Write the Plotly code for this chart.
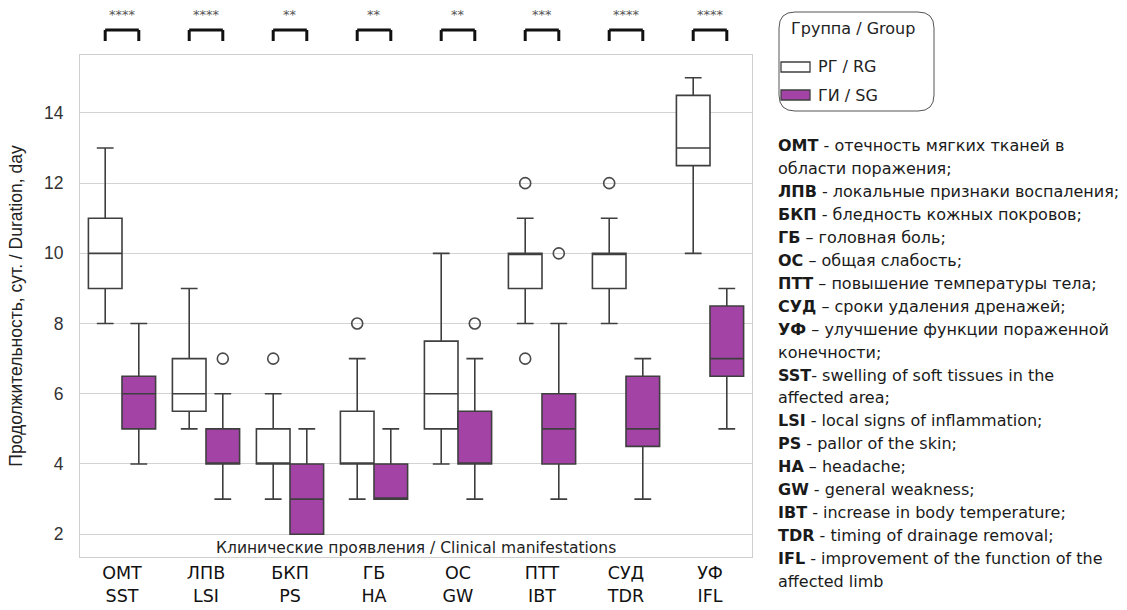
import plotly.graph_objects as go

# ---------------- data ----------------
categories = ["ОМТ<br>SST", "ЛПВ<br>LSI", "БКП<br>PS", "ГБ<br>HA",
              "ОС<br>GW", "ПТТ<br>IBT", "СУД<br>TDR", "УФ<br>IFL"]

rg_low = [8, 5, 3, 3, 4, 8, 8, 10]
rg_q1 = [9, 5.5, 4, 4, 5, 9, 9, 12.5]
rg_med = [10, 6, 4, 4, 6, 10, 10, 13]
rg_q3 = [11, 7, 5, 5.5, 7.5, 10, 10, 14.5]
rg_high = [13, 9, 6, 7, 10, 11, 11, 15]

sg_low = [4, 3, 2, 3, 3, 3, 3, 5]
sg_q1 = [5, 4, 2, 3, 4, 4, 4.5, 6.5]
sg_med = [6, 4, 3, 3, 4, 5, 5, 7]
sg_q3 = [6.5, 5, 4, 4, 5.5, 6, 6.5, 8.5]
sg_high = [8, 6, 5, 5, 7, 8, 7, 9]

rg_out_x = ["БКП<br>PS", "ГБ<br>HA", "ПТТ<br>IBT", "ПТТ<br>IBT", "СУД<br>TDR"]
rg_out_y = [7, 8, 12, 7, 12]
sg_out_x = ["ЛПВ<br>LSI", "ОС<br>GW", "ПТТ<br>IBT"]
sg_out_y = [7, 8, 10]

significance = ["****", "****", "**", "**", "**", "***", "****", "****"]

y_ticks = [2, 4, 6, 8, 10, 12, 14]

group_names = ["РГ / RG", "ГИ / SG"]
legend_title = "Группа / Group"
x_title = "Клинические проявления / Clinical manifestations"
y_title = "Продолжительность, сут. / Duration, day"

definitions = [
    "<b>ОМТ</b> - отечность мягких тканей в",
    "области поражения;",
    "<b>ЛПВ</b> - локальные признаки воспаления;",
    "<b>БКП</b> - бледность кожных покровов;",
    "<b>ГБ</b> – головная боль;",
    "<b>ОС</b> – общая слабость;",
    "<b>ПТТ</b> – повышение температуры тела;",
    "<b>СУД</b> – сроки удаления дренажей;",
    "<b>УФ</b> – улучшение функции пораженной",
    "конечности;",
    "<b>SST</b>- swelling of soft tissues in the",
    "affected area;",
    "<b>LSI</b> - local signs of inflammation;",
    "<b>PS</b> - pallor of the skin;",
    "<b>HA</b> – headache;",
    "<b>GW</b> - general weakness;",
    "<b>IBT</b> - increase in body temperature;",
    "<b>TDR</b> - timing of drainage removal;",
    "<b>IFL</b> - improvement of the function of the",
    "affected limb",
]

# ---------------- style ----------------
W, H = 1127, 610
L, R, T, B = 80, 752, 55, 557  # plot area in pixels
PURPLE = "#A443A6"
EDGE = "#3f3f3f"
FONT = "DejaVu Sans"


def px_x(px):
    return (px - L) / (R - L)


def px_y(py):
    return (B - py) / (B - T)


fig = go.Figure()

fig.add_trace(go.Box(
    name=group_names[0], x=categories,
    q1=rg_q1, median=rg_med, q3=rg_q3,
    lowerfence=rg_low, upperfence=rg_high,
    fillcolor="white", line=dict(color=EDGE, width=1.6),
    whiskerwidth=0.5, boxpoints=False, offsetgroup="rg", showlegend=False,
))
fig.add_trace(go.Box(
    name=group_names[1], x=categories,
    q1=sg_q1, median=sg_med, q3=sg_q3,
    lowerfence=sg_low, upperfence=sg_high,
    fillcolor=PURPLE, line=dict(color=EDGE, width=1.6),
    whiskerwidth=0.5, boxpoints=False, offsetgroup="sg", showlegend=False,
))

marker_style = dict(symbol="circle-open", size=11, color="#4a4a4a",
                    line=dict(width=1.6, color="#4a4a4a"))
fig.add_trace(go.Scatter(x=rg_out_x, y=rg_out_y, mode="markers",
                         marker=marker_style, offsetgroup="rg",
                         showlegend=False))
fig.add_trace(go.Scatter(x=sg_out_x, y=sg_out_y, mode="markers",
                         marker=marker_style, offsetgroup="sg",
                         showlegend=False))

shapes = []
annotations = []

# significance brackets
half = 0.2
y_top = px_y(30)
y_leg = px_y(41)
for i, s in enumerate(significance):
    line = dict(color="#111111", width=3)
    shapes.append(dict(type="line", xref="x", yref="paper",
                       x0=i - half, x1=i + half, y0=y_top, y1=y_top, line=line))
    shapes.append(dict(type="line", xref="x", yref="paper",
                       x0=i - half, x1=i - half, y0=y_top, y1=y_leg, line=line))
    shapes.append(dict(type="line", xref="x", yref="paper",
                       x0=i + half, x1=i + half, y0=y_top, y1=y_leg, line=line))
    annotations.append(dict(x=i, xref="x", y=px_y(14), yref="paper",
                            text=s, showarrow=False, xanchor="center",
                            yanchor="middle",
                            font=dict(family=FONT, size=13, color="#555555")))

# x-axis title inside plot
annotations.append(dict(x=0.5, xref="paper", y=px_y(548), yref="paper",
                        text=x_title, showarrow=False, xanchor="center",
                        yanchor="middle",
                        font=dict(family=FONT, size=15.5, color="#222222")))

# custom legend with rounded frame
lx0, lx1, ly0, ly1, r = 779, 934, 12, 111, 16
path = (f"M {px_x(lx0 + r)},{px_y(ly0)} L {px_x(lx1 - r)},{px_y(ly0)} "
        f"Q {px_x(lx1)},{px_y(ly0)} {px_x(lx1)},{px_y(ly0 + r)} "
        f"L {px_x(lx1)},{px_y(ly1 - r)} "
        f"Q {px_x(lx1)},{px_y(ly1)} {px_x(lx1 - r)},{px_y(ly1)} "
        f"L {px_x(lx0 + r)},{px_y(ly1)} "
        f"Q {px_x(lx0)},{px_y(ly1)} {px_x(lx0)},{px_y(ly1 - r)} "
        f"L {px_x(lx0)},{px_y(ly0 + r)} "
        f"Q {px_x(lx0)},{px_y(ly0)} {px_x(lx0 + r)},{px_y(ly0)} Z")
shapes.append(dict(type="path", xref="paper", yref="paper", path=path,
                   line=dict(color="#555555", width=1), fillcolor="white"))
annotations.append(dict(x=px_x(853), xref="paper", y=px_y(28), yref="paper",
                        text=legend_title, showarrow=False, xanchor="center",
                        yanchor="middle",
                        font=dict(family=FONT, size=16, color="#222222")))
for k, (nm, fc) in enumerate(zip(group_names, ["white", PURPLE])):
    cy = 67 + 28 * k
    shapes.append(dict(type="rect", xref="paper", yref="paper",
                       x0=px_x(781), x1=px_x(810), y0=px_y(cy - 5), y1=px_y(cy + 5),
                       line=dict(color=EDGE, width=1.3), fillcolor=fc))
    annotations.append(dict(x=px_x(816), xref="paper", y=px_y(cy), yref="paper",
                            text=nm, showarrow=False, xanchor="left",
                            yanchor="middle",
                            font=dict(family=FONT, size=16, color="#222222")))

# definitions text on right
for k, line in enumerate(definitions):
    annotations.append(dict(x=px_x(776), xref="paper", y=px_y(146 + 22.9 * k),
                            yref="paper", text=line, showarrow=False,
                            xanchor="left", yanchor="middle",
                            font=dict(family=FONT, size=16, color="#1a1a1a")))

fig.update_layout(
    width=W, height=H,
    margin=dict(l=L, r=W - R, t=T, b=H - B, autoexpand=False),
    paper_bgcolor="white", plot_bgcolor="white",
    boxmode="group", boxgap=0.2, boxgroupgap=0,
    scattermode="group", scattergap=0.2,
    shapes=shapes, annotations=annotations,
    showlegend=False,
    xaxis=dict(
        categoryorder="array", categoryarray=categories,
        showgrid=False, showline=True, mirror=True, automargin=False,
        linecolor="#cfcfcf", linewidth=1, ticks="",
        tickfont=dict(family=FONT, size=17.5, color="#111111"),
        range=[-0.5, len(categories) - 0.5],
    ),
    yaxis=dict(
        range=[1.35, 15.65], tickvals=y_ticks, automargin=False,
        showgrid=True, gridcolor="#d3d3d3", gridwidth=1,
        showline=True, mirror=True, linecolor="#cfcfcf", linewidth=1,
        zeroline=False, ticks="", ticklabelstandoff=12,
        tickfont=dict(family="Liberation Sans", size=17.5, color="#333333"),
        title=dict(text=y_title, standoff=16,
                   font=dict(family="Liberation Sans", size=17.5, color="#222222")),
    ),
)

fig.write_html("out.html",
               config={"displayModeBar": False},
               post_script="document.body.style.margin='0';"
                           "document.body.style.overflow='hidden';")
